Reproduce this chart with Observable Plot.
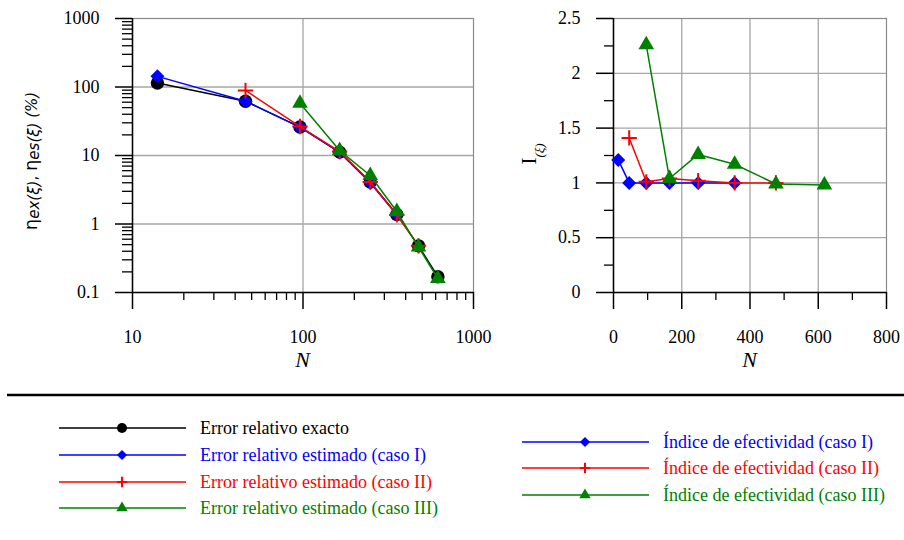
<!DOCTYPE html>
<html>
<head>
<meta charset="utf-8">
<script src="https://cdn.jsdelivr.net/npm/d3@7"></script>
<script src="https://cdn.jsdelivr.net/npm/@observablehq/plot@0.6"></script>
<style>
  html, body { margin: 0; padding: 0; background: #fff; }
  #wrap { position: relative; width: 904px; height: 540px; overflow: hidden; }
  #left { position: absolute; left: 0; top: 0; }
  #right { position: absolute; left: 500px; top: 0; }
  #legend { position: absolute; left: 0; top: 380px; }
  #left svg text.tick, #right svg text.tick,
  #left svg g[aria-label$="tick label"] text, #right svg g[aria-label$="tick label"] text {
    font-family: 'Liberation Serif', 'Times New Roman', serif !important;
    font-size: 18px !important;
    font-variant: normal !important;
  }
</style>
</head>
<body>
<div id="wrap">
  <div id="left"></div>
  <div id="right"></div>
  <div id="legend"></div>
</div>
<script>
// ---------- data ----------
const N_exact   = [14, 46, 96, 164, 248, 355, 476, 618];
const err_exact = [114, 62, 26, 11.2, 4.1, 1.38, 0.48, 0.17];

const N_caseI    = [14, 46, 96, 164, 248, 355];
const err_caseI  = [143, 62, 26, 11.1, 4.0, 1.36];
const idx_caseI  = [1.21, 1.0, 1.0, 1.0, 1.0, 1.0];

const N_caseII   = [46, 96, 164, 248, 355, 476];
const err_caseII = [89, 26.5, 11.4, 4.1, 1.36, 0.48];
const idx_caseII = [1.41, 1.01, 1.04, 1.02, 1.0, 1.0];

const N_caseIII   = [96, 164, 248, 355, 476, 618];
const err_caseIII = [58, 11.8, 5.1, 1.52, 0.46, 0.16];
const idx_caseIII = [2.26, 1.04, 1.26, 1.17, 0.99, 0.98];

// tick labels
const leftXTicks  = [10, 100, 1000];
const leftYTicks  = [0.1, 1, 10, 100, 1000];
const rightXTicks = [0, 200, 400, 600, 800];
const rightYTicks = [0, 0.5, 1, 1.5, 2, 2.5];

const legendLeft = [
  "Error relativo exacto",
  "Error relativo estimado (caso I)",
  "Error relativo estimado (caso II)",
  "Error relativo estimado (caso III)"
];
const legendRight = [
  "Índice de efectividad (caso I)",
  "Índice de efectividad (caso II)",
  "Índice de efectividad (caso III)"
];

// ---------- helpers ----------
const rows = (xs, ys) => xs.map((N, i) => ({N, v: ys[i]}));
const exact = rows(N_exact, err_exact);
const eI = rows(N_caseI, err_caseI), eII = rows(N_caseII, err_caseII), eIII = rows(N_caseIII, err_caseIII);
const iI = rows(N_caseI, idx_caseI), iII = rows(N_caseII, idx_caseII), iIII = rows(N_caseIII, idx_caseIII);

const minorLog = (lo, hi) => {
  const out = [];
  for (let d = lo; d < hi; d *= 10) for (let k = 2; k <= 9; k++) out.push(+(d * k).toPrecision(3));
  return out;
};

const GRID = "#a6a6a6", FRAME = "#8a8a8a";
const BLUE = "#0000ff", RED = "#ff0000", GREEN = "#008000";
const FONT = "'Liberation Serif', 'Times New Roman', serif";
const fmt = d => String(d);
const tickText = {fontFamily: FONT, fontSize: 18};

function seriesMarks(black, b, r, g) {
  const m = [];
  if (black) m.push(
    Plot.line(black, {x: "N", y: "v", stroke: "black", strokeWidth: 1.5}),
    Plot.dot(black, {x: "N", y: "v", r: 6.7, fill: "black", stroke: "none", symbol: "circle"})
  );
  m.push(
    Plot.line(b, {x: "N", y: "v", stroke: BLUE, strokeWidth: 1.5}),
    Plot.dot(b, {x: "N", y: "v", r: 6.3, fill: BLUE, stroke: "none", symbol: "diamond2"}),
    Plot.line(r, {x: "N", y: "v", stroke: RED, strokeWidth: 1.5}),
    Plot.dot(r, {x: "N", y: "v", r: 5, fill: "none", stroke: RED, strokeWidth: 2, symbol: "plus"}),
    Plot.line(g, {x: "N", y: "v", stroke: GREEN, strokeWidth: 1.5}),
    Plot.dot(g, {x: "N", y: "v", r: 5.8, fill: GREEN, stroke: "none", symbol: "triangle"})
  );
  return m;
}

const styleObj = {fontFamily: FONT, fontSize: "18px", color: "black", background: "white", overflow: "visible"};

// ---------- left chart ----------
const left = Plot.plot({
  width: 500, height: 380,
  marginLeft: 132, marginRight: 27, marginTop: 18, marginBottom: 88,
  style: styleObj,
  x: {type: "log", domain: [10, 1000]},
  y: {type: "log", domain: [0.1, 1000]},
  marks: [
    Plot.ruleY([1, 10, 100], {stroke: GRID, strokeWidth: 1.3}),
    Plot.ruleX([100], {stroke: GRID, strokeWidth: 1.3}),
    Plot.frame({stroke: FRAME, strokeWidth: 1.2}),
    Plot.ruleX([10], {stroke: "black", strokeWidth: 1.5}),
    Plot.ruleY([0.1], {stroke: "black", strokeWidth: 1.5}),
    Plot.axisY(leftYTicks, {tickSize: 17, tickPadding: 16, tickFormat: fmt, label: null, strokeWidth: 1.5, ...tickText}),
    Plot.axisY(minorLog(0.1, 1000), {tickSize: 10, tickFormat: () => "", label: null, strokeWidth: 1.3}),
    Plot.axisX(leftXTicks, {tickSize: 17, tickPadding: 21, tickFormat: fmt, label: null, strokeWidth: 1.5, ...tickText}),
    Plot.axisX(minorLog(10, 1000), {tickSize: 8, tickFormat: () => "", label: null, strokeWidth: 1.3}),
    ...seriesMarks(exact, eI, eII, eIII)
  ]
});
document.getElementById("left").appendChild(left);

// ---------- right chart ----------
const right = Plot.plot({
  width: 404, height: 380,
  marginLeft: 113, marginRight: 18, marginTop: 18, marginBottom: 88,
  style: styleObj,
  x: {type: "linear", domain: [0, 800]},
  y: {type: "linear", domain: [0, 2.5]},
  marks: [
    Plot.ruleY([0.5, 1, 1.5, 2], {stroke: GRID, strokeWidth: 1.3}),
    Plot.ruleX([200, 400, 600], {stroke: GRID, strokeWidth: 1.3}),
    Plot.frame({stroke: FRAME, strokeWidth: 1.2}),
    Plot.ruleX([0], {stroke: "black", strokeWidth: 1.5}),
    Plot.ruleY([0], {stroke: "black", strokeWidth: 1.5}),
    Plot.axisY(rightYTicks, {tickSize: 17, tickPadding: 16, tickFormat: fmt, label: null, strokeWidth: 1.5, ...tickText}),
    Plot.axisY([0.25, 0.75, 1.25, 1.75, 2.25], {tickSize: 9, tickFormat: () => "", label: null, strokeWidth: 1.3}),
    Plot.axisX(rightXTicks, {tickSize: 17, tickPadding: 21, tickFormat: fmt, label: null, strokeWidth: 1.5, ...tickText}),
    Plot.axisX([100, 300, 500, 700], {tickSize: 8, tickFormat: () => "", label: null, strokeWidth: 1.3}),
    ...seriesMarks(null, iI, iII, iIII)
  ]
});
document.getElementById("right").appendChild(right);

// force serif tick labels on every text that Plot produced
[left, right].forEach(svg => {
  d3.select(svg).selectAll("text")
    .classed("tick", true)
    .attr("font-family", FONT).attr("font-size", 18)
    .style("font-family", FONT).style("font-size", "18px");
});

// ---------- axis titles ----------
function xTitle(svg, x) {
  d3.select(svg).append("text")
    .attr("x", x).attr("y", 367)
    .attr("text-anchor", "middle")
    .style("font-family", FONT).style("font-size", "22px").style("font-style", "italic")
    .attr("fill", "black")
    .text("N");
}
xTitle(left, 302.5);
xTitle(right, 249.5);

// left y title: η ex(ξ), η es(ξ) (%)
{
  const t = d3.select(left).append("text")
    .attr("transform", "translate(37,161) rotate(-90)")
    .attr("text-anchor", "middle")
    .style("font-family", "'DejaVu Sans', sans-serif")
    .style("font-size", "15px").attr("fill", "black");
  t.append("tspan").style("font-size", "18px").text("η");
  t.append("tspan").style("font-style", "italic").attr("dy", 2).text("ex(ξ)");
  t.append("tspan").attr("dy", -2).text(", ");
  t.append("tspan").style("font-size", "18px").text("η");
  t.append("tspan").style("font-style", "italic").attr("dy", 2).text("es(ξ)");
  t.append("tspan").style("font-style", "italic").attr("dy", -2).text(" (%)");
}
// right y title: I(ξ)
{
  const t = d3.select(right).append("text")
    .attr("transform", "translate(36,154) rotate(-90)")
    .attr("text-anchor", "middle")
    .style("font-family", FONT).attr("fill", "black");
  t.append("tspan").style("font-size", "21px").text("I");
  t.append("tspan").style("font-size", "13px").style("font-style", "italic").attr("dy", 8).text("(ξ)");
}

// ---------- legend ----------
const lg = d3.select("#legend").append("svg")
  .attr("width", 904).attr("height", 160)
  .style("font-family", FONT).style("font-size", "18px");
lg.append("line").attr("x1", 7).attr("x2", 904).attr("y1", 15).attr("y2", 15)
  .attr("stroke", "black").attr("stroke-width", 2.5);

const symDef = {
  circle:  {type: d3.symbolCircle,   r: 5,   fill: true},
  diamond: {type: d3.symbolDiamond2, r: 4.6, fill: true},
  plus:    {type: d3.symbolPlus,     r: 3.4, fill: false},
  tri:     {type: d3.symbolTriangle, r: 4.2, fill: true}
};
function legendItem(x0, y, color, sym, label) {
  lg.append("line").attr("x1", x0).attr("x2", x0 + 127).attr("y1", y).attr("y2", y)
    .attr("stroke", color).attr("stroke-width", 1.5);
  const s = symDef[sym];
  const p = lg.append("path")
    .attr("transform", `translate(${x0 + 63},${y})`)
    .attr("d", d3.symbol(s.type, Math.PI * s.r * s.r)());
  if (s.fill) p.attr("fill", color);
  else p.attr("fill", "none").attr("stroke", color).attr("stroke-width", 2);
  lg.append("text").attr("x", x0 + 141).attr("y", y).attr("dy", "0.35em")
    .attr("fill", color).text(label);
}
const leftColors = ["black", BLUE, RED, GREEN], leftSyms = ["circle", "diamond", "plus", "tri"];
const leftY = [48, 75, 102, 128];
legendLeft.forEach((lab, i) => legendItem(59, leftY[i], leftColors[i], leftSyms[i], lab));
const rightColors = [BLUE, RED, GREEN], rightSyms = ["diamond", "plus", "tri"];
const rightY = [62, 88, 115];
legendRight.forEach((lab, i) => legendItem(522, rightY[i], rightColors[i], rightSyms[i], lab));
</script>
</body>
</html>
